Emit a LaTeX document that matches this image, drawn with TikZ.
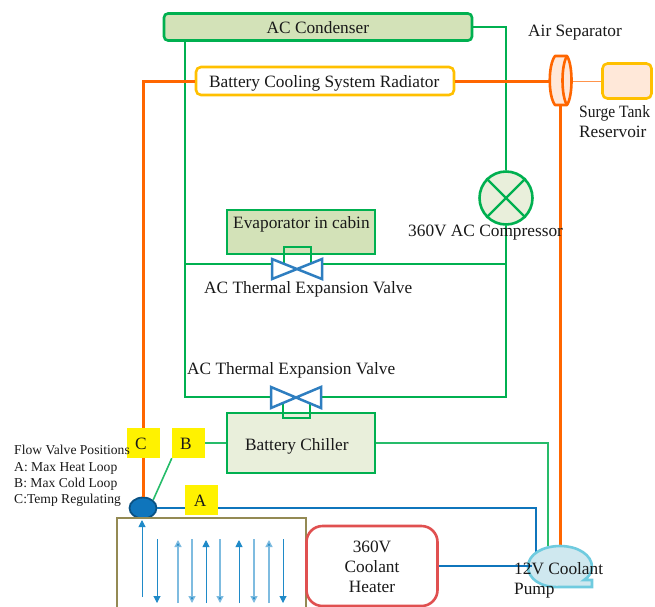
\documentclass[tikz,border=0pt]{standalone}
\usepackage{fontspec}
\setmainfont{Liberation Serif}
\usetikzlibrary{arrows.meta,shapes.geometric}
\definecolor{gr}{HTML}{00B050}
\definecolor{org}{HTML}{FF6600}
\definecolor{blu}{HTML}{0F75BC}
\definecolor{vb}{HTML}{2E7EC0}
\definecolor{ar}{HTML}{1F8AC8}
\definecolor{arl}{HTML}{7FBCE0}
\definecolor{gold}{HTML}{FFC000}
\definecolor{olive}{HTML}{948A54}
\definecolor{redb}{HTML}{E05050}
\definecolor{pumpf}{HTML}{CFE8EF}
\definecolor{pumpd}{HTML}{6FCBDF}
\definecolor{condf}{HTML}{D3E2B8}
\definecolor{chilf}{HTML}{E9EFDB}
\newcommand{\bigf}{\fontsize{17.3}{20}\selectfont}
\tikzset{
 x=1pt,y=-1pt,
 lbl/.style={inner sep=0pt,font=\bigf,text=black!90,anchor=base west},
 lblc/.style={inner sep=0pt,font=\bigf,text=black!90,anchor=base},
 small/.style={inner sep=0pt,font=\fontsize{13.6}{16}\selectfont,text=black!90,anchor=base west},
 gbox/.style={draw=gr,line width=2.6pt,inner sep=0pt},
 pipeg/.style={draw=gr,line width=2.3pt},
 pipegt/.style={draw=gr!85,line width=1.6pt},
 pipeo/.style={draw=org,line width=3pt},
 pipeb/.style={draw=blu,line width=2.2pt},
 ynode/.style={fill=yellow,inner sep=0pt,minimum width=33,minimum height=30},
 vlv/.style={draw=vb,line width=2.5pt,line join=miter},
 up/.style={draw=ar,line width=1pt,-{Triangle[length=7pt,width=7pt]}},
 upl/.style={draw=arl,line width=1.3pt,-{Triangle[length=7pt,width=7pt,fill=ar]}},
}
\begin{document}
\begin{tikzpicture}
\useasboundingbox (0,0) rectangle (655,606);
\coordinate (ml) at (185,264);
\coordinate (mr) at (506,264);
\coordinate (bl) at (185,397);
\coordinate (br) at (506,397);
% nodes with fill
\node[gbox,fill=condf,rounded corners=4pt,minimum width=308,minimum height=27] (cond) at (318,27) {};
\node[circle,draw=gr,line width=2.6pt,fill=chilf,minimum size=53,inner sep=0pt] (comp) at (506,198) {};
% green AC lines
\draw[pipeg] (cond.east) -| (comp.north);
\draw[pipeg] (comp.south) -- (br) -- (321,397);
\draw[pipeg] (185,41) -- (bl) -- (271,397);
\draw[pipeg] (ml) -- (272,264);
\draw[pipeg] (322,264) -- (mr);
% evaporator
\node[gbox,fill=condf,minimum width=148,minimum height=44] (evap) at (301,232) {};
\draw[pipeg] (284,264) -- (284,247) -- (311,247) -- (311,264);
\draw[pipeg] (comp.45) -- (comp.225) (comp.135) -- (comp.315);
% valves
\draw[vlv,fill=white] (272,259) -- (322,279) -- (322,259) -- (272,279) -- cycle;
% chiller
\node[gbox,fill=chilf,minimum width=148,minimum height=60] (chil) at (301,443) {};
\draw[pipeg] (283,397) -- (283,418) -- (310,418) -- (310,397);
\draw[vlv,fill=white] (271,387) -- (321,408) -- (321,387) -- (271,408) -- cycle;
% radiator, separator, surge
\node[draw=gold,line width=2.6pt,fill=white,rounded corners=5pt,minimum width=258,minimum height=28,inner sep=0pt] (rad) at (325,81) {};
\node[draw=gold,line width=2.6pt,fill=org!15!white,rounded corners=5pt,minimum width=49,minimum height=35,inner sep=0pt] (surge) at (627,81) {};
\coordinate (sepl) at (550,81);
\coordinate (sepr) at (571,81);
\coordinate (sepb) at (560,105);
\node[ellipse,draw=blu!70!black,fill=blu,line width=1.8pt,minimum width=27,minimum height=21,inner sep=0pt] (fv) at (143,508) {};
\coordinate (pumpt) at (560,546);
\coordinate (pumpl) at (530,566);
% orange
\draw[pipeo] (fv.north) -- (143,81) -- (rad.west);
\draw[pipeo] (rad.east) -- (sepl);
\draw[pipeo] (sepb) -- (pumpt);
\draw[draw=org!70,line width=1pt] (sepr) -- (surge.west);
% separator
\draw[draw=org,line width=2.6pt,fill=org!15!white,line join=round] (555,56) -- (567,56) .. controls (573,65) and (573,96) .. (567,105) -- (555,105) .. controls (548,96) and (548,65) .. (555,56) -- cycle;
\draw[draw=org,line width=2.6pt] (567,56) .. controls (561,65) and (561,96) .. (567,105);
% yellow
\node[ynode] (c) at (143.5,443) {};
\node[ynode] (b) at (188.5,443) {};
\node[ynode] (a) at (201.5,500) {};
% chiller lines
\draw[pipegt] (chil.east) -- (548,443) -- (548,546);
\draw[pipegt] (chil.west) -- (b.east);
\draw[pipegt] (b.south west) -- (fv.north east);
% blue pipes
\draw[pipeb] (fv.east) -- (a.west |- fv.east);
\draw[pipeb] (a.east |- fv.east) -- (536,508) -- (536,552);
% radiator block
\draw[draw=olive,line width=2.6pt,fill=white] (117,608) -- (117,518) -- (306,518) -- (306,608);
\draw[up] (142,597) -- (142,520);
\draw[up] (157,539) -- (157,603);
\draw[upl] (178,603) -- (178,540);
\draw[upl] (192,539) -- (192,603);
\draw[up] (206,603) -- (206,540);
\draw[upl] (220,539) -- (220,603);
\draw[up] (239,603) -- (239,540);
\draw[upl] (254,539) -- (254,603);
\draw[upl] (269,603) -- (269,540);
\draw[up] (283,539) -- (283,603);
% heater
\node[draw=redb,line width=2.6pt,fill=white,rounded corners=16pt,minimum width=131,minimum height=80,inner sep=0pt] (heat) at (372,566) {};
% pump
\draw[draw=pumpd,line width=2.6pt,fill=pumpf] (592,580) -- (592,587) -- (560,587) .. controls (540,588) and (528,578) .. (528,567) .. controls (528,554) and (543,546) .. (560,546) .. controls (578,546) and (592,555) .. (592,567) .. controls (592,572) and (589,577) .. (584,580) -- cycle;
\draw[pipeb] (heat.east |- pumpl) -- (pumpl) -- (532,566);
% texts
\node[lbl] (tcond) at (266.5,33) {AC Condenser};
\node[lbl] (trad) at (209,87) {Battery Cooling System Radiator};
\node[lbl] (tevap) at (233,228) {Evaporator in cabin};
\node[lbl] (tchil) at (245,450) {Battery Chiller};
\node[lbl] (tair) at (528,36) {Air Separator};
\node[lbl,xscale=.9] (tsurge) at (579,117) {Surge Tank};
\node[lbl] (tres) at (579,137) {Reservoir};
\node[lbl] (tcomp) at (408,236) {360V AC Compressor};
\node[lbl] (tv1) at (204,293) {AC Thermal Expansion Valve};
\node[lbl] (tv2) at (187,374) {AC Thermal Expansion Valve};
\node[lblc] (th1) at (372,552) {360V};
\node[lblc] (th2) at (372,572) {Coolant};
\node[lblc] (th3) at (372,592.5) {Heater};
\node[lbl] (tp1) at (514,574) {12V Coolant};
\node[lbl] (tp2) at (514,594) {Pump};
\node[lblc] (tc) at (141,449) {C};
\node[lblc] (tb) at (186,449) {B};
\node[lblc] (ta) at (200,506) {A};
\node[small] (f1) at (14,454) {Flow Valve Positions};
\node[small] (f2) at (14,471) {A: Max Heat Loop};
\node[small] (f3) at (14,487) {B: Max Cold Loop};
\node[small] (f4) at (14,503) {C:Temp Regulating};
\end{tikzpicture}
\end{document}
